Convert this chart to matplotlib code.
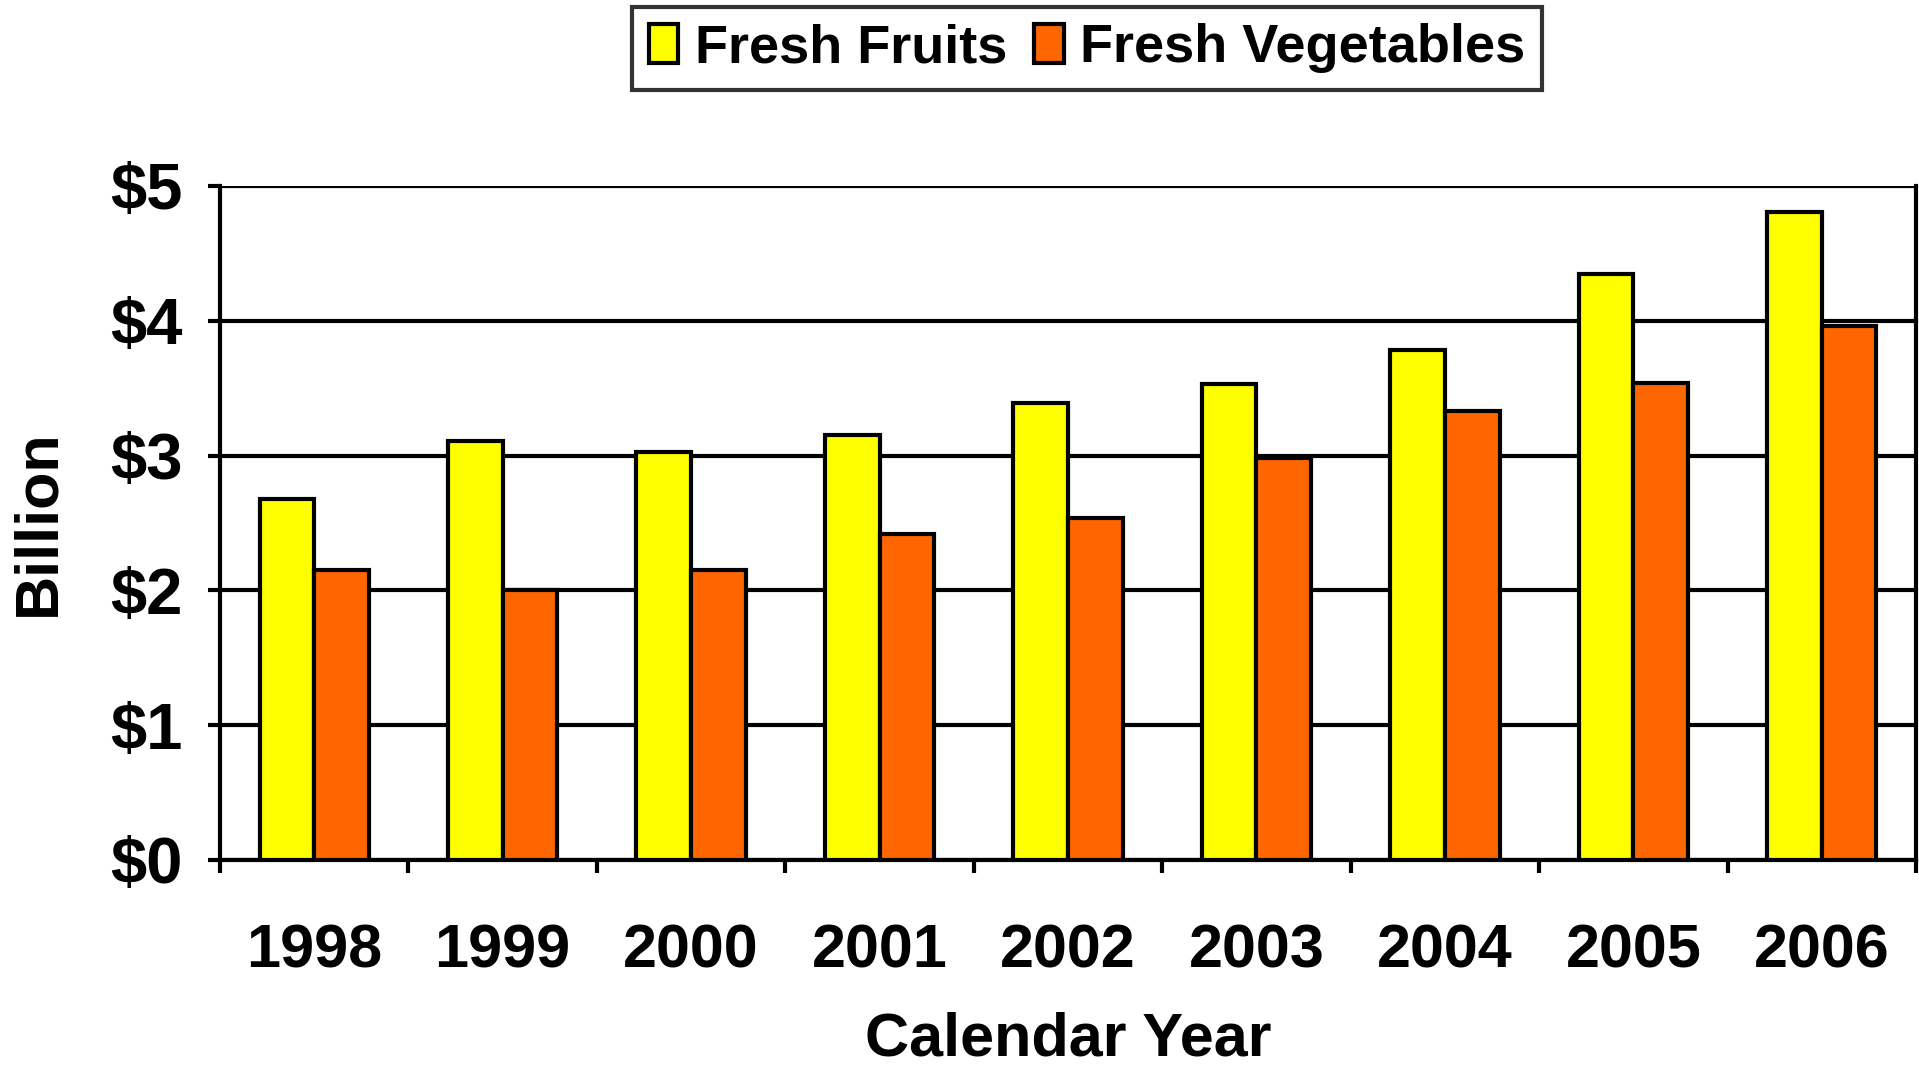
import numpy as np
import matplotlib.pyplot as plt

years = ["1998", "1999", "2000", "2001", "2002", "2003", "2004", "2005", "2006"]
fruits = [2.68, 3.11, 3.03, 3.15, 3.39, 3.53, 3.78, 4.35, 4.81]
vegetables = [2.15, 2.00, 2.15, 2.42, 2.54, 2.98, 3.33, 3.54, 3.96]
y_ticks = [0, 1, 2, 3, 4, 5]
y_labels = ["$0", "$1", "$2", "$3", "$4", "$5"]

plt.rcParams['font.family'] = ['Liberation Sans', 'DejaVu Sans']
plt.rcParams['font.weight'] = 'bold'

W, H = 1919, 1066
fig = plt.figure(figsize=(W / 100, H / 100), dpi=100)
ax = fig.add_axes([220 / W, 1 - 860 / H, (1916 - 220) / W, (860 - 186) / H])

lw = 3.0
x = np.arange(len(years))
bw = 0.29
b1 = ax.bar(x - bw / 2, fruits, bw, color='#FFFF00', edgecolor='black', linewidth=lw,
            label='Fresh Fruits', zorder=3)
b2 = ax.bar(x + bw / 2, vegetables, bw, color='#FF6600', edgecolor='black', linewidth=lw,
            label='Fresh Vegetables', zorder=3)

ax.set_xlim(-0.5, len(years) - 0.5)
ax.set_ylim(0, 5)
ax.set_yticks(y_ticks)
ax.set_yticklabels(y_labels, fontsize=47, fontweight='bold')
ax.set_xticks(x)
ax.set_xticklabels(years, fontsize=44, fontweight='bold')
ax.set_xticks(np.arange(len(years) + 1) - 0.5, minor=True)
ax.tick_params(axis='x', which='major', length=0, pad=46)
ax.tick_params(axis='x', which='minor', length=9, width=lw, direction='out')
ax.tick_params(axis='y', length=9, width=lw, direction='out', pad=18)

ax.grid(axis='y', color='black', linewidth=lw, zorder=0)
ax.set_axisbelow(True)
for s in ax.spines.values():
    s.set_linewidth(lw)
ax.spines['top'].set_visible(False)

# axis titles placed in figure pixels to match the original
fig.text(1068 / W, 1 - 1040 / H, "Calendar Year", fontsize=44, fontweight='bold',
         ha='center', va='center')
fig.text(39 / W, 1 - 523 / H, "Billion", fontsize=44, fontweight='bold',
         ha='center', va='center', rotation=90)

leg = fig.legend(handles=[b1, b2], loc='upper center', bbox_to_anchor=(1087 / W, 1 - 7 / H),
                 ncol=2, fontsize=39, frameon=True, fancybox=False, edgecolor='black',
                 handlelength=0.55, handleheight=0.75, handletextpad=0.3, columnspacing=0.5,
                 borderpad=0.3, borderaxespad=0)
leg.get_frame().set_linewidth(lw)
for t in leg.get_texts():
    t.set_fontweight('bold')

fig.savefig("out.png", dpi=100)
